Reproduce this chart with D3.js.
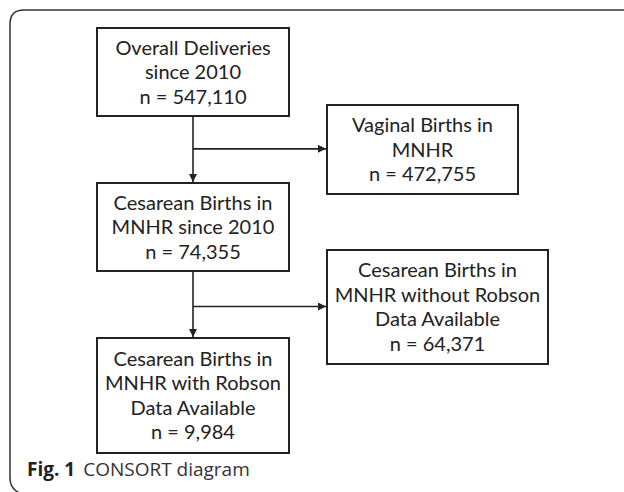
<!DOCTYPE html>
<html><head><meta charset="utf-8">
<script src="https://cdn.jsdelivr.net/npm/d3@7/dist/d3.min.js"></script>
<style>html,body{margin:0;padding:0;background:#fff;}svg{display:block;}</style>
</head><body><div id="chart"></div>
<script>
// ---- data ----
const boxIds    = ["overall", "vaginal", "cesarean", "without", "with"];
const boxLines  = [
  ["Overall Deliveries", "since 2010"],
  ["Vaginal Births in", "MNHR"],
  ["Cesarean Births in", "MNHR since 2010"],
  ["Cesarean Births in", "MNHR without Robson", "Data Available"],
  ["Cesarean Births in", "MNHR with Robson", "Data Available"]
];
const boxCounts = [547110, 472755, 74355, 64371, 9984];
const links     = [["overall","cesarean","vaginal"], ["cesarean","with","without"]];
const caption   = ["Fig. 1", "CONSORT diagram"];

// ---- layout (not data) ----
const W = 624, H = 492;
const layout = {
  overall:  {x0: 97,  x1: 289, y0: 28,  y1: 116},
  vaginal:  {x0: 327, x1: 518, y0: 105, y1: 194},
  cesarean: {x0: 97,  x1: 289, y0: 183, y1: 271},
  without:  {x0: 327, x1: 548, y0: 250, y1: 364},
  with:     {x0: 97,  x1: 289, y0: 338, y1: 453}
};
const branchFrac = [0.49, 0.53];
const fmt = d3.format(",");
const ink = "#222";

const svg = d3.select("#chart").append("svg").attr("width", W).attr("height", H);

svg.append("defs").append("marker")
  .attr("id", "arr").attr("viewBox", "0 0 10 10").attr("refX", 10).attr("refY", 5)
  .attr("markerWidth", 9).attr("markerHeight", 8).attr("markerUnits", "userSpaceOnUse")
  .attr("orient", "auto")
  .append("path").attr("d", "M0,0L10,5L0,10Z").attr("fill", ink);

// outer frame
svg.append("path")
  .attr("d", `M22,${H+2} Q10,${H-2} 10,${H-14} L10,24 Q10,10 24,10 L${W},10`)
  .attr("fill", "none").attr("stroke", "#333").attr("stroke-width", 1.5);

const boxes = boxIds.map((id, i) => ({id, lines: boxLines[i].concat(["n = " + fmt(boxCounts[i])]), ...layout[id]}));

const g = svg.selectAll("g.box").data(boxes).join("g").attr("class", "box");
g.append("rect")
  .attr("x", d => d.x0).attr("y", d => d.y0)
  .attr("width", d => d.x1 - d.x0).attr("height", d => d.y1 - d.y0)
  .attr("fill", "#fff").attr("stroke", ink).attr("stroke-width", 2);

const lh = 24.5;
g.each(function(d) {
  const cx = (d.x0 + d.x1) / 2, cy = (d.y0 + d.y1) / 2;
  const n = d.lines.length;
  d3.select(this).selectAll("text").data(d.lines).join("text")
    .attr("x", cx)
    .attr("y", (t, j) => cy + (j - (n - 1) / 2) * lh + 7)
    .attr("text-anchor", "middle")
    .attr("font-family", "Lato, 'Open Sans', sans-serif")
    .attr("font-size", 20)
    .attr("fill", ink)
    .text(t => t);
});

// connectors
links.forEach(([from, to, side], i) => {
  const a = layout[from], b = layout[to], s = layout[side];
  const x = (a.x0 + a.x1) / 2;
  svg.append("line").attr("x1", x).attr("y1", a.y1).attr("x2", x).attr("y2", b.y0 - 1)
    .attr("stroke", ink).attr("stroke-width", 1.6).attr("marker-end", "url(#arr)");
  const ym = a.y1 + branchFrac[i] * (b.y0 - a.y1);
  svg.append("line").attr("x1", x).attr("y1", ym).attr("x2", s.x0 - 1).attr("y2", ym)
    .attr("stroke", ink).attr("stroke-width", 1.6).attr("marker-end", "url(#arr)");
});

// caption
const cap = svg.append("text").attr("x", 27).attr("y", 476)
  .attr("font-family", "'Open Sans', 'Noto Sans', sans-serif").attr("font-size", 19).attr("fill", ink);
cap.append("tspan").attr("font-weight", "bold").text(caption[0]);
cap.append("tspan").attr("dx", 8).attr("fill", "#333").text(caption[1]);
</script></body></html>
